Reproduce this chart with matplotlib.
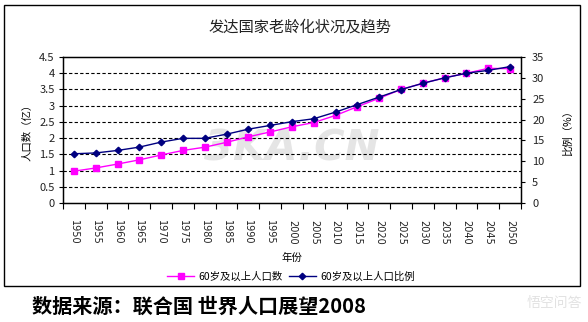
import matplotlib

matplotlib.use("Agg")
import numpy as np
from matplotlib import pyplot as plt
from matplotlib.patches import Rectangle
from matplotlib.ticker import FixedLocator, FuncFormatter, MultipleLocator

plt.rcParams["font.family"] = ["Noto Sans CJK SC", "DejaVu Sans"]

years = [1950, 1955, 1960, 1965, 1970, 1975, 1980, 1985, 1990, 1995, 2000,
         2005, 2010, 2015, 2020, 2025, 2030, 2035, 2040, 2045, 2050]
# 60岁及以上人口数（亿）
population = [0.98, 1.08, 1.20, 1.33, 1.48, 1.62, 1.72, 1.87, 2.04, 2.19, 2.35,
              2.48, 2.70, 2.97, 3.23, 3.50, 3.69, 3.86, 4.00, 4.15, 4.14]
# 60岁及以上人口比例（%）
share = [11.8, 12.0, 12.6, 13.4, 14.6, 15.5, 15.5, 16.5, 17.7, 18.6, 19.5,
         20.2, 21.8, 23.6, 25.4, 27.2, 28.7, 30.0, 31.1, 31.8, 32.7]

pink = "#ff00ff"
navy = "#000080"

fig = plt.figure(figsize=(5.88, 3.22), dpi=100)
fig.patches.append(Rectangle((4 / 588, 1 - 286 / 322), 576 / 588, 281 / 322,
                             transform=fig.transFigure, fill=False,
                             edgecolor="black", linewidth=1.0))

ax = fig.add_axes([63 / 588, 1 - 203 / 322, 458 / 588, 146 / 322])
x = np.arange(len(years))

for v in np.arange(0.5, 4.01, 0.5):
    ax.axhline(v, color="black", linestyle=(0, (3, 2)), linewidth=0.8, zorder=1)

ax.plot(x, population, color=pink, linewidth=1.0, marker="s", markersize=4,
        label="60岁及以上人口数", zorder=3)
ax.set_xlim(-0.5, len(years) - 0.5)
ax.set_ylim(0, 4.5)
ax.yaxis.set_major_locator(MultipleLocator(0.5))
ax.yaxis.set_major_formatter(FuncFormatter(lambda v, _: f"{v:g}"))
ax.set_xticks(x)
ax.set_xticklabels([str(y) for y in years], rotation=270, fontsize=7,
                   family="DejaVu Sans", color="#222222")
ax.tick_params(axis="x", which="major", length=0, pad=12)
ax.xaxis.set_minor_locator(FixedLocator(np.arange(-0.5, len(years), 1)))
ax.tick_params(axis="x", which="minor", length=4, width=0.8, direction="out")
ax.tick_params(axis="y", length=3, width=0.8, labelsize=8, pad=3,
               labelcolor="#222222")
ax.set_ylabel("人口数（亿）", fontsize=7.5, labelpad=5)
ax.set_xlabel("年份", fontsize=7.5, labelpad=6)
for side in ax.spines.values():
    side.set_linewidth(1.0)

ax2 = ax.twinx()
ax2.plot(x, share, color=navy, linewidth=1.0, marker="D", markersize=3.3,
         label="60岁及以上人口比例", zorder=4)
ax2.set_ylim(0, 35)
ax2.yaxis.set_major_locator(MultipleLocator(5))
ax2.tick_params(axis="y", length=3, width=0.8, labelsize=8, pad=5,
                labelcolor="#222222")
ax2.set_ylabel("比例（%）", fontsize=7.5, rotation=90, labelpad=13)

ax.text(0.5, 0.37, "3KA.CN", transform=ax.transAxes, fontsize=30,
        fontweight="bold", style="italic", color="#c0c0c0", alpha=0.4,
        ha="center", va="center", family="DejaVu Sans", zorder=0)

handles = ax.get_lines()[-1:] + ax2.get_lines()
fig.legend(handles, [h.get_label() for h in handles], loc="center",
           bbox_to_anchor=(291 / 588, 1 - 277 / 322), ncol=2, frameon=False,
           fontsize=7.5, handlelength=2.6, columnspacing=0.6, handletextpad=0.4)

fig.text(300 / 588, 1 - 27 / 322, "发达国家老龄化状况及趋势", ha="center",
         va="center", fontsize=11, color="#222222")
fig.text(32 / 588, 1 - 306 / 322, "数据来源：联合国 世界人口展望2008",
         ha="left", va="center", fontsize=14.5, fontweight="bold")
fig.text(582 / 588, 1 - 303 / 322, "悟空问答", ha="right", va="center",
         fontsize=10, color="#e2e2e2")

fig.savefig("out.png", dpi=100)
